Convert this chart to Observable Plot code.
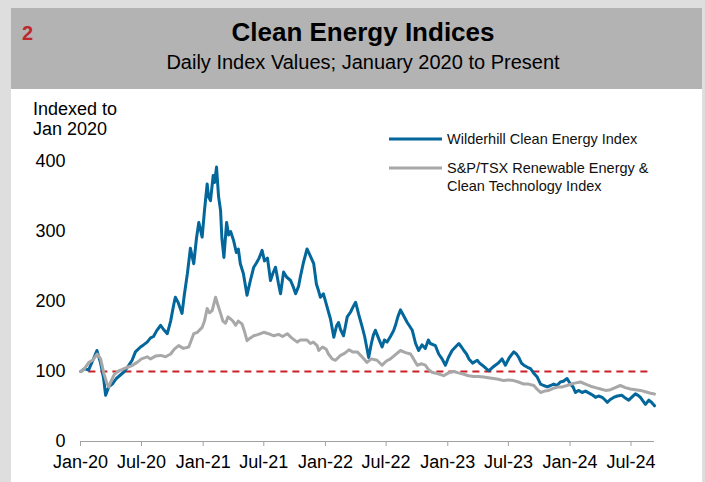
<!DOCTYPE html>
<html><head><meta charset="utf-8">
<script src="https://cdn.jsdelivr.net/npm/d3@7"></script>
<script src="https://cdn.jsdelivr.net/npm/@observablehq/plot@0.6"></script>
<style>
body{margin:0;background:#dedede;font-family:"Liberation Sans",Arial,sans-serif;}
#page{position:relative;width:705px;height:482px;overflow:hidden;background:#dedede;}
#header{position:absolute;left:11px;top:8px;width:691px;height:81px;background:#b3b3b3;}
#panel{position:absolute;left:11px;top:89px;width:691px;height:393px;background:#fff;}
#chart{position:absolute;left:0;top:89px;}
#overlay{position:absolute;left:0;top:0;pointer-events:none;font-family:"Liberation Sans",Arial,sans-serif;}
</style></head><body>
<div id="page">
  <div id="header"></div>
  <div id="panel"></div>
  <div id="chart"></div>
  <svg id="overlay" width="705" height="482">
    <text x="22" y="40" font-size="20" font-weight="bold" fill="#c0272d">2</text>
    <text x="363" y="41" font-size="26" font-weight="bold" text-anchor="middle" fill="#000">Clean Energy Indices</text>
    <text x="363" y="69" font-size="20" text-anchor="middle" fill="#000">Daily Index Values; January 2020 to Present</text>
    <text x="33" y="115" font-size="18" fill="#000">Indexed to</text>
    <text x="33" y="135" font-size="18" fill="#000">Jan 2020</text>
    <g id="legend"></g>
  </svg>
</div>
<script>
const seriesNames = ["Wilderhill Clean Energy Index", "S&P/TSX Renewable Energy & Clean Technology Index"];
const seriesColors = ["#03679b", "#a8a8a8"];

const wilderDates = ["2020-01-02","2020-01-13","2020-01-25","2020-02-06","2020-02-19","2020-03-01","2020-03-10","2020-03-16","2020-03-25","2020-04-05","2020-04-17","2020-04-29","2020-05-11","2020-05-23","2020-06-03","2020-06-13","2020-06-28","2020-07-07","2020-07-18","2020-07-28","2020-08-06","2020-08-15","2020-08-27","2020-09-05","2020-09-16","2020-09-26","2020-10-05","2020-10-10","2020-10-19","2020-10-30","2020-11-06","2020-11-15","2020-11-24","2020-12-04","2020-12-12","2020-12-19","2020-12-29","2021-01-05","2021-01-13","2021-01-17","2021-01-23","2021-01-31","2021-02-04","2021-02-10","2021-02-16","2021-02-22","2021-02-26","2021-03-04","2021-03-12","2021-03-18","2021-03-24","2021-04-02","2021-04-10","2021-04-16","2021-04-22","2021-05-01","2021-05-12","2021-05-22","2021-06-01","2021-06-09","2021-06-17","2021-06-26","2021-07-03","2021-07-12","2021-07-21","2021-07-28","2021-08-05","2021-08-14","2021-08-20","2021-08-29","2021-09-07","2021-09-19","2021-09-26","2021-10-04","2021-10-13","2021-10-18","2021-10-27","2021-11-07","2021-11-14","2021-11-27","2021-12-05","2021-12-11","2021-12-17","2021-12-26","2022-01-06","2022-01-16","2022-01-26","2022-02-03","2022-02-09","2022-02-15","2022-02-24","2022-03-07","2022-03-17","2022-03-24","2022-04-01","2022-04-10","2022-04-21","2022-04-28","2022-05-04","2022-05-10","2022-05-18","2022-05-24","2022-05-30","2022-06-08","2022-06-19","2022-06-26","2022-07-04","2022-07-14","2022-07-23","2022-07-29","2022-08-05","2022-08-13","2022-08-22","2022-09-02","2022-09-09","2022-09-17","2022-09-27","2022-10-06","2022-10-16","2022-10-26","2022-11-04","2022-11-10","2022-11-25","2022-12-05","2022-12-15","2022-12-25","2023-01-03","2023-01-14","2023-01-24","2023-02-03","2023-02-11","2023-02-18","2023-02-26","2023-03-05","2023-03-16","2023-03-30","2023-04-06","2023-04-14","2023-04-24","2023-05-03","2023-05-15","2023-05-23","2023-06-01","2023-06-12","2023-06-22","2023-07-04","2023-07-17","2023-07-25","2023-08-01","2023-08-09","2023-08-16","2023-08-27","2023-09-05","2023-09-14","2023-09-25","2023-10-05","2023-10-14","2023-10-25","2023-11-04","2023-11-13","2023-11-23","2023-12-03","2023-12-12","2023-12-23","2024-01-02","2024-01-10","2024-01-17","2024-01-26","2024-02-06","2024-02-16","2024-03-02","2024-03-09","2024-03-17","2024-03-26","2024-04-06","2024-04-13","2024-04-21","2024-04-30","2024-05-10","2024-05-21","2024-06-04","2024-06-14","2024-06-24","2024-07-05","2024-07-14","2024-07-22","2024-07-29","2024-08-07","2024-08-13","2024-08-23","2024-08-31","2024-09-09"];
const wilderValues = [100,104,102,115,130,112,90,66,78,82,90,95,100,108,116,128,135,138,142,148,150,158,166,160,154,172,195,206,198,183,210,240,276,254,290,313,292,330,368,350,344,380,370,392,350,330,290,263,313,295,300,287,270,275,254,240,209,230,249,255,262,273,258,262,230,240,249,225,211,242,235,230,222,211,222,235,255,275,268,254,225,216,206,211,192,175,149,165,170,160,151,178,185,192,199,182,163,150,135,120,140,152,159,148,135,145,142,150,158,166,178,188,180,170,165,159,140,130,138,133,145,140,137,125,118,109,120,130,135,140,135,130,125,118,112,116,112,109,105,101,106,109,112,118,109,120,128,125,120,112,109,106,104,98,92,82,80,78,80,82,80,85,86,90,82,78,70,73,70,72,68,66,63,65,63,60,56,60,63,65,66,62,59,64,68,66,63,57,53,59,56,51];

const tsxDates = ["2020-01-02","2020-01-13","2020-01-26","2020-02-06","2020-02-20","2020-03-01","2020-03-11","2020-03-19","2020-03-25","2020-04-03","2020-04-11","2020-04-24","2020-05-05","2020-05-19","2020-06-01","2020-06-18","2020-07-01","2020-07-18","2020-07-28","2020-08-12","2020-08-27","2020-09-11","2020-09-26","2020-10-07","2020-10-20","2020-11-03","2020-11-19","2020-12-04","2020-12-15","2020-12-29","2021-01-05","2021-01-13","2021-01-20","2021-01-28","2021-02-07","2021-02-14","2021-02-22","2021-03-01","2021-03-09","2021-03-16","2021-03-24","2021-03-31","2021-04-08","2021-04-16","2021-04-27","2021-05-04","2021-05-12","2021-05-22","2021-06-01","2021-06-15","2021-07-01","2021-07-15","2021-07-31","2021-08-14","2021-08-26","2021-09-09","2021-09-22","2021-10-09","2021-10-18","2021-11-07","2021-11-17","2021-11-26","2021-12-07","2021-12-12","2021-12-23","2022-01-03","2022-01-10","2022-01-21","2022-01-31","2022-02-15","2022-02-27","2022-03-12","2022-03-23","2022-04-06","2022-04-18","2022-05-05","2022-05-18","2022-06-04","2022-06-19","2022-07-02","2022-07-14","2022-07-29","2022-08-13","2022-08-28","2022-09-12","2022-09-21","2022-10-02","2022-10-15","2022-10-26","2022-11-04","2022-11-15","2022-12-01","2022-12-20","2023-01-03","2023-01-19","2023-02-02","2023-02-18","2023-03-04","2023-03-20","2023-04-03","2023-04-18","2023-05-02","2023-05-18","2023-06-01","2023-06-17","2023-07-01","2023-07-17","2023-07-31","2023-08-16","2023-08-30","2023-09-15","2023-09-26","2023-10-05","2023-10-17","2023-10-29","2023-11-12","2023-11-28","2023-12-09","2023-12-23","2024-01-11","2024-02-01","2024-02-16","2024-03-02","2024-03-17","2024-04-01","2024-04-16","2024-05-01","2024-05-15","2024-05-30","2024-06-14","2024-06-29","2024-07-14","2024-07-29","2024-08-13","2024-08-28","2024-09-09"];
const tsxValues = [100,104,113,116,125,118,97,84,78,88,96,101,103,106,108,113,118,121,118,122,123,121,125,132,137,133,135,154,156,163,172,190,184,187,206,195,183,172,169,178,175,172,166,172,168,158,144,148,151,153,156,154,151,153,150,154,148,142,145,145,140,142,137,130,135,132,125,118,116,123,126,131,128,128,122,113,118,116,109,115,118,124,130,127,125,118,109,111,109,103,99,97,94,98,100,98,96,94,93,93,92,91,90,89,87,88,87,85,82,82,80,74,70,72,73,76,78,78,80,83,85,82,79,77,75,73,74,77,80,77,75,74,73,71,69,68];

const xTickDates = ["2020-01-01","2020-07-01","2021-01-01","2021-07-01","2022-01-01","2022-07-01","2023-01-01","2023-07-01","2024-01-01","2024-07-01"];
const xTickLabels = ["Jan-20","Jul-20","Jan-21","Jul-21","Jan-22","Jul-22","Jan-23","Jul-23","Jan-24","Jul-24"];
const yTicks = [0, 100, 200, 300, 400];
const baselineValue = 100;
const baselineSpan = ["2020-01-26", "2024-09-03"];
const xDomain = ["2020-01-01", "2024-09-09"];

const parse = d3.utcParse("%Y-%m-%d");
const wilder = wilderDates.map((d, i) => ({date: parse(d), value: wilderValues[i], series: seriesNames[0]}));
const tsx = tsxDates.map((d, i) => ({date: parse(d), value: tsxValues[i], series: seriesNames[1]}));
const tickMap = new Map(xTickDates.map((d, i) => [+parse(d), xTickLabels[i]]));
const baseRule = [{y: baselineValue, x1: parse(baselineSpan[0]), x2: parse(baselineSpan[1])}];

const chart = Plot.plot({
  width: 705, height: 393,
  marginLeft: 80, marginRight: 51, marginTop: 72, marginBottom: 41,
  style: {fontFamily: "Liberation Sans, Arial, sans-serif", background: "transparent", overflow: "visible", color: "#000"},
  x: {type: "utc", domain: xDomain.map(parse)},
  y: {domain: [0, 400]},
  marks: [
    Plot.ruleY([0], {stroke: "#a0a0a0", strokeWidth: 1}),
    Plot.axisX({ticks: xTickDates.map(parse), tickFormat: d => tickMap.get(+d), tickSize: 5, tickPadding: 9, stroke: "#a0a0a0", fontSize: 18, label: null}),
    Plot.axisY({ticks: yTicks, tickSize: 0, tickPadding: 15, fontSize: 18, label: null}),
    Plot.ruleY(baseRule, {y: "y", x1: "x1", x2: "x2", stroke: "#cc1f26", strokeWidth: 2, strokeDasharray: "7,5"}),
    Plot.line(wilder, {x: "date", y: "value", stroke: seriesColors[0], strokeWidth: 3, strokeLinejoin: "round"}),
    Plot.line(tsx, {x: "date", y: "value", stroke: seriesColors[1], strokeWidth: 3, strokeLinejoin: "round"})
  ]
});
document.getElementById("chart").appendChild(chart);

// legend
const ns = "http://www.w3.org/2000/svg";
const legend = document.getElementById("legend");
const legendRows = [
  {color: seriesColors[0], lineY: 139, lines: ["Wilderhill Clean Energy Index"], baseY: 144},
  {color: seriesColors[1], lineY: 168, lines: ["S&P/TSX Renewable Energy &", "Clean Technology Index"], baseY: 173}
];
legendRows.forEach(r => {
  const ln = document.createElementNS(ns, "line");
  ln.setAttribute("x1", 389); ln.setAttribute("x2", 442);
  ln.setAttribute("y1", r.lineY); ln.setAttribute("y2", r.lineY);
  ln.setAttribute("stroke", r.color); ln.setAttribute("stroke-width", 3);
  legend.appendChild(ln);
  r.lines.forEach((t, k) => {
    const tx = document.createElementNS(ns, "text");
    tx.setAttribute("x", 447); tx.setAttribute("y", r.baseY + k * 18);
    tx.setAttribute("font-size", 14.5); tx.setAttribute("fill", "#111");
    tx.textContent = t;
    legend.appendChild(tx);
  });
});
</script>
</body></html>
